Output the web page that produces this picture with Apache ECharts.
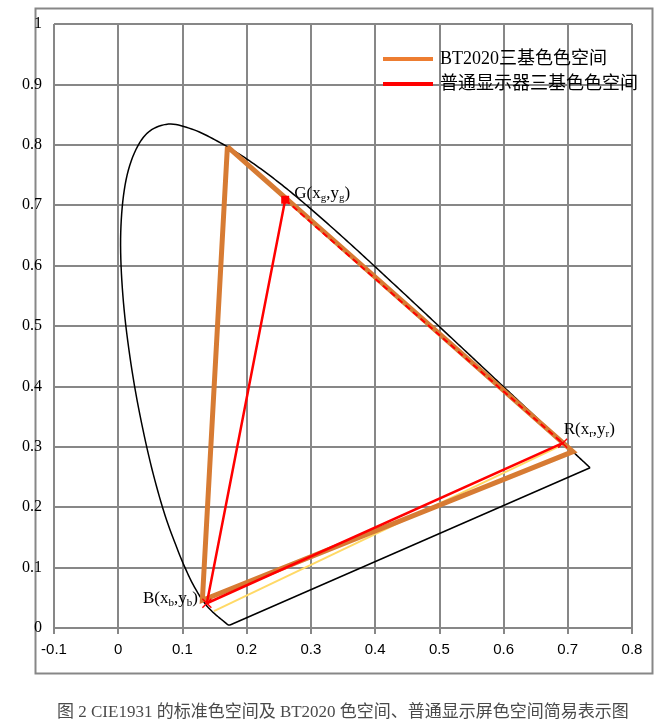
<!DOCTYPE html>
<html>
<head>
<meta charset="utf-8">
<script src="https://cdn.jsdelivr.net/npm/echarts@6/dist/echarts.min.js"></script>
<style>
html,body{margin:0;padding:0;background:#fff;}
#c{width:656px;height:724px;}
</style>
</head>
<body>
<div id="c"></div>
<script>
// CIE 1931 spectral locus (x, y), 380 nm -> 700 nm
const locusCurve = [
  [0.1741,0.0050],[0.1733,0.0048],[0.1714,0.0051],[0.1689,0.0069],[0.1644,0.0109],
  [0.1611,0.0138],[0.1566,0.0177],[0.1510,0.0227],[0.1440,0.0297],[0.1355,0.0399],
  [0.1241,0.0578],[0.1096,0.0868],[0.0913,0.1327],[0.0687,0.2007],[0.0454,0.2950],
  [0.0235,0.4127],[0.0082,0.5384],[0.0039,0.6548],[0.0139,0.7502],[0.0389,0.8120],
  [0.0743,0.8338],[0.1142,0.8262],[0.1547,0.8059],[0.1929,0.7816],[0.2296,0.7543],
  [0.2658,0.7243],[0.3016,0.6923],[0.3373,0.6589],[0.3731,0.6245],[0.4087,0.5896],
  [0.4441,0.5547],[0.4788,0.5202],[0.5125,0.4866],[0.5448,0.4544],[0.5752,0.4242],
  [0.6029,0.3965],[0.6270,0.3725],[0.6658,0.3340],[0.6915,0.3083],[0.7079,0.2920],
  [0.7190,0.2809],[0.7260,0.2740],[0.7300,0.2700],[0.7334,0.2666],[0.7347,0.2653]
];
// line of purples (700 nm back to 380 nm)
const purpleLine = [[0.7347,0.2653],[0.1741,0.0050]];
// BT2020 primaries G, R, B (closed)
const bt2020 = [[0.170,0.797],[0.708,0.292],[0.131,0.046],[0.170,0.797]];
// ordinary display primaries
const dispR = [0.692,0.306];
const dispG = [0.260,0.709];
const dispB = [0.138,0.041];
// light yellow auxiliary line
const yellowLine = [[0.149,0.028],[0.685,0.300]];
// axis ranges
const xRange = [-0.1, 0.8];
const yRange = [0, 1];
const tickStep = 0.1;
const legendNames = ['BT2020三基色色空间','普通显示器三基色色空间'];
const caption = '图 2 CIE1931 的标准色空间及 BT2020 色空间、普通显示屏色空间简易表示图';

const serif = '"Liberation Serif","Noto Sans CJK SC",serif';
const crossPath = 'path://M0,1 L1,0 L5,4 L9,0 L10,1 L6,5 L10,9 L9,10 L5,6 L1,10 L0,9 L4,5 Z';
const richLbl = {
  m:{fontFamily:serif,fontSize:17,color:'#000',lineHeight:22},
  s:{fontFamily:serif,fontSize:11,color:'#000',lineHeight:22,padding:[9,0,0,0]}
};
const fmt1 = v => String(+(+v).toFixed(1));

// smooth rendering of the locus: Catmull-Rom through the projected data points
function renderLocus(params, api) {
  if (params.dataIndex !== 0) return null;
  const p = locusCurve.map(d => api.coord(d));
  const n = p.length;
  const pts = [p[0]];
  const steps = 10;
  for (let i = 0; i < n - 1; i++) {
    const p0 = p[Math.max(i - 1, 0)], p1 = p[i], p2 = p[i + 1], p3 = p[Math.min(i + 2, n - 1)];
    const c1 = [p1[0] + (p2[0] - p0[0]) / 6, p1[1] + (p2[1] - p0[1]) / 6];
    const c2 = [p2[0] - (p3[0] - p1[0]) / 6, p2[1] - (p3[1] - p1[1]) / 6];
    for (let s = 1; s <= steps; s++) {
      const t = s / steps, u = 1 - t;
      const a = u*u*u, b = 3*u*u*t, c = 3*u*t*t, d = t*t*t;
      pts.push([a*p1[0] + b*c1[0] + c*c2[0] + d*p2[0], a*p1[1] + b*c1[1] + c*c2[1] + d*p2[1]]);
    }
  }
  return {
    type:'polyline',
    shape:{points:pts},
    style:{fill:null, stroke:'#000', lineWidth:1.5}
  };
}

const chart = echarts.init(document.getElementById('c'), null, {renderer:'canvas'});
chart.setOption({
  animation:false,
  backgroundColor:'#fff',
  title:{
    text:caption, left:52, top:699,
    textStyle:{fontFamily:serif,fontSize:17,fontWeight:'normal',color:'#4a4a4a'}
  },
  graphic:[{
    type:'rect', left:33, top:6, z:-10,
    shape:{width:617,height:665},
    style:{fill:'none',stroke:'#878787',lineWidth:2}
  }],
  legend:{
    orient:'vertical', left:378, top:45, itemWidth:50, itemHeight:4, itemGap:7,
    icon:'rect',
    textStyle:{fontFamily:serif,fontSize:18,color:'#000',padding:[0,0,0,2]},
    data:[
      {name:legendNames[0], itemStyle:{color:'#ED7D31'}},
      {name:legendNames[1], itemStyle:{color:'#FF0000'}}
    ]
  },
  grid:{left:54, right:24, top:24, bottom:96, containLabel:false},
  xAxis:{
    type:'value', min:xRange[0], max:xRange[1], interval:tickStep,
    axisLine:{show:true, onZero:true, lineStyle:{color:'#878787',width:2}},
    axisTick:{show:true, inside:false, length:6, lineStyle:{color:'#878787',width:2}},
    axisLabel:{formatter:fmt1, margin:14, fontFamily:'"Liberation Sans",sans-serif', fontSize:15, color:'#000'},
    splitLine:{show:true, lineStyle:{color:'#878787',width:2}}
  },
  yAxis:{
    type:'value', min:yRange[0], max:yRange[1], interval:tickStep,
    axisLine:{show:true, onZero:true, lineStyle:{color:'#878787',width:2}},
    axisTick:{show:false},
    axisLabel:{formatter:fmt1, margin:12, fontFamily:serif, fontSize:16, color:'#000'},
    splitLine:{show:true, lineStyle:{color:'#878787',width:2}}
  },
  series:[
    {
      type:'custom', name:'locus', data:locusCurve, renderItem:renderLocus,
      encode:{x:0, y:1}, z:3, silent:true
    },
    {
      type:'line', name:'purple', data:purpleLine, symbol:'none', z:3,
      lineStyle:{color:'#000',width:1.5}
    },
    {
      type:'line', name:'aux', data:yellowLine, symbol:'none', z:4,
      lineStyle:{color:'#FFD966',width:2}
    },
    {
      type:'line', name:legendNames[0], data:bt2020, symbol:'none', z:5,
      lineStyle:{color:'#D77B33',width:5,join:'miter'},
      itemStyle:{color:'#D77B33'}
    },
    {
      type:'line', name:legendNames[1], z:7,
      data:[dispG, dispR], symbol:'none',
      lineStyle:{color:'#FF0000',width:2,type:[6,4]},
      itemStyle:{color:'#FF0000'}
    },
    {
      type:'line', name:legendNames[1], z:8, showSymbol:true,
      itemStyle:{color:'#FF0000'},
      lineStyle:{color:'#FF0000',width:2.5},
      data:[
        {value:dispR, symbol:crossPath, symbolSize:10,
         label:{show:true, position:'right', distance:0, offset:[-4,-14],
                formatter:'{m|R(x}{s|r}{m|,y}{s|r}{m|)}', rich:richLbl}},
        {value:dispB, symbol:crossPath, symbolSize:10,
         label:{show:true, position:'left', distance:4, offset:[0,-5],
                formatter:'{m|B(x}{s|b}{m|,y}{s|b}{m|)}', rich:richLbl}},
        {value:dispG, symbol:'rect', symbolSize:8,
         label:{show:true, position:'right', distance:5, offset:[0,-6],
                formatter:'{m|G(x}{s|g}{m|,y}{s|g}{m|)}', rich:richLbl}}
      ]
    }
  ]
});
</script>
</body>
</html>
